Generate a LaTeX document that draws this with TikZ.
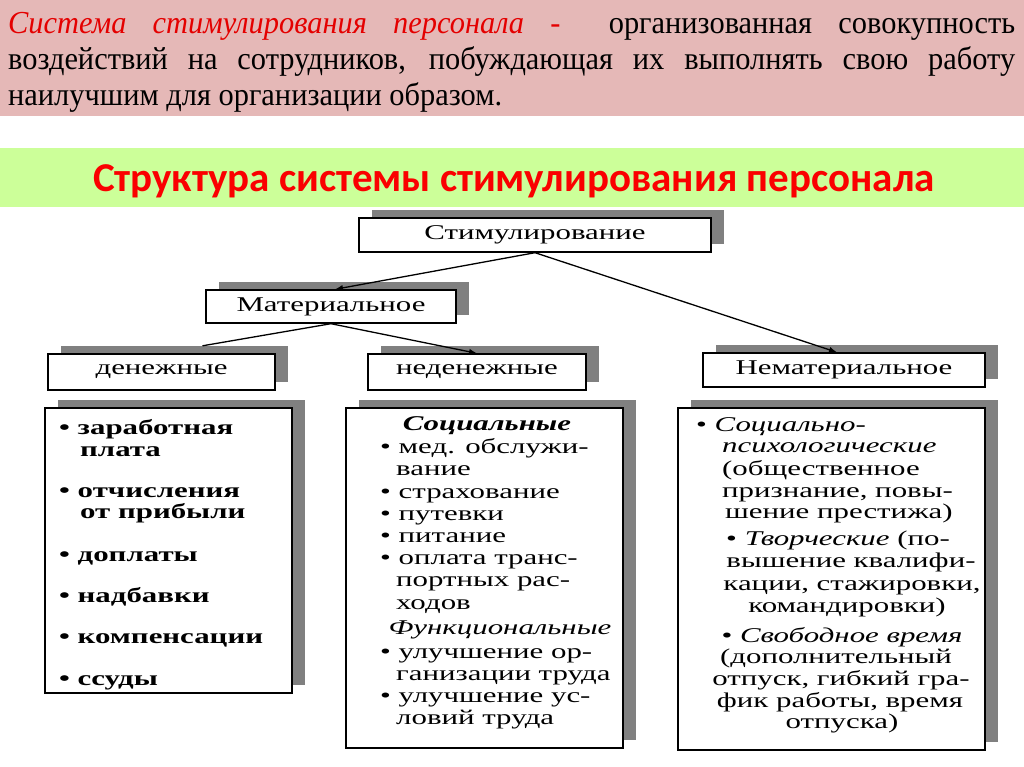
\documentclass[tikz,border=0pt]{standalone}
\usepackage{fontspec}
\setmainfont{Liberation Serif}
\newfontfamily\dgfont[FakeStretch=1.47]{Liberation Serif}
\newfontfamily\topfont[FakeStretch=0.95]{Liberation Serif}
\newfontfamily\ttlfont{Carlito}
\usetikzlibrary{arrows.meta}
\definecolor{pinkbg}{RGB}{229,184,183}
\definecolor{greenbg}{RGB}{204,255,153}
\definecolor{redtxt}{RGB}{228,0,0}
\definecolor{titlered}{RGB}{250,0,0}
\definecolor{shadecol}{RGB}{128,128,128}
\tikzset{
  box/.style={draw=black, line width=1.4pt, fill=white, inner sep=0pt},
  shadowbox/.style={fill=shadecol, draw=none, inner sep=0pt},
  lab/.style={font=\dgfont\fontsize{21}{24}\selectfont},
  ln/.style={font=\dgfont\fontsize{21}{24}\selectfont, anchor=base west, inner sep=0pt},
  lnc/.style={font=\dgfont\fontsize{21}{24}\selectfont, anchor=base, inner sep=0pt},
  lnb/.style={font=\dgfont\bfseries\fontsize{21}{24}\selectfont, anchor=base west, inner sep=0pt},
  topln/.style={font=\topfont\fontsize{32}{36}\selectfont, anchor=base west, inner sep=0pt},
  conn/.style={line width=1.3pt, draw=black},
  arr/.style={conn, -{Latex[length=8pt,width=6pt]}},
}
\newcommand\shbox[6]{%
  \node[shadowbox, minimum width={#4-#2}, minimum height={#5-#3}] (#1s) at ({(#2+#4)/2+13},{(#3+#5)/2-8}) {};
  \node[box, lab, minimum width={#4-#2}, minimum height={#5-#3}] (#1) at ({(#2+#4)/2},{(#3+#5)/2}) {#6};}
\begin{document}
\begin{tikzpicture}[x=1pt,y=-1pt]
\useasboundingbox (0,0) rectangle (1024,767);
\fill[white] (0,0) rectangle (1024,767);
% bands
\fill[pinkbg] (0,0) rectangle (1024,116);
\fill[greenbg] (0,148) rectangle (1024,207);
% definition text
\node[topln] (t1) at (8,34) {\makebox[1007pt][s]{{\color{redtxt}\itshape Система стимулирования персонала -}\hspace{22pt} организованная совокупность}};
\node[topln] (t2) at (8,70) {\makebox[1007pt][s]{воздействий на сотрудников, побуждающая их выполнять свою работу}};
\node[topln] (t3) at (8,106) {наилучшим для организации образом.};
% title
\node[anchor=base, inner sep=0pt, font=\ttlfont\bfseries\fontsize{41}{48}\selectfont, text=titlered] (title) at (514,192) {Структура системы стимулирования персонала};
% boxes
\shbox{stim}{359}{218}{711}{252}{Стимулирование}
\shbox{mat}{206}{290}{456}{323}{Материальное}
\shbox{den}{48}{354}{275}{390}{денежные}
\shbox{ned}{368}{354}{586}{390}{неденежные}
\shbox{nem}{703}{353}{985}{387}{Нематериальное}
\shbox{L}{45}{408}{292}{693}{}
\shbox{M}{346}{408}{623}{748}{}
\shbox{R}{678}{408}{985}{750}{}
% connectors
\draw[arr] (stim.south) -- ([xshift=4pt]mat.north);
\draw[arr] (stim.south) -- ([xshift=-7pt]nem.north);
\draw[conn] (mat.south) -- ([xshift=28pt]dens.north);
\draw[arr] (mat.south) -- (ned.north);
% left list
\node[lnb] (l1) at (59,434) {• заработная};
\node[lnb] (l2) at (80,456) {плата};
\node[lnb] (l3) at (59,497) {• отчисления};
\node[lnb] (l4) at (80,518) {от прибыли};
\node[lnb] (l5) at (59,561) {• доплаты};
\node[lnb] (l6) at (59,602) {• надбавки};
\node[lnb] (l7) at (59,643) {• компенсации};
\node[lnb] (l8) at (59,685) {• ссуды};
% middle list
\node[lnc] (m0) at (487,430) {\bfseries\itshape Социальные};
\node[ln] (m1) at (380,453) {• мед. обслужи-};
\node[ln] (m2) at (396,475) {вание};
\node[ln] (m3) at (380,498) {• страхование};
\node[ln] (m4) at (380,520) {• путевки};
\node[ln] (m5) at (380,542) {• питание};
\node[ln] (m6) at (380,564) {• оплата транс-};
\node[ln] (m7) at (396,586) {портных рас-};
\node[ln] (m8) at (396,609) {ходов};
\node[lnc] (m9) at (500,634) {\itshape Функциональные};
\node[ln] (m10) at (380,658) {• улучшение ор-};
\node[ln] (m11) at (396,680) {ганизации труда};
\node[ln] (m12) at (380,702) {• улучшение ус-};
\node[ln] (m13) at (396,724) {ловий труда};
% right list
\node[ln] (r1) at (696,431) {• \itshape Социально-};
\node[ln] (r2) at (722,452) {\itshape психологические};
\node[ln] (r3) at (722,475) {(общественное};
\node[ln] (r4) at (722,497) {признание, повы-};
\node[ln] (r5) at (725,518) {шение престижа)};
\node[lnc] (r6) at (838,545) {• \textit{Творческие} (по-};
\node[lnc] (r7) at (851,567) {вышение квалифи-};
\node[lnc] (r8) at (852,590) {кации, стажировки,};
\node[lnc] (r9) at (847,612) {командировки)};
\node[lnc] (r10) at (842,642) {• \textit{Свободное время}};
\node[lnc] (r11) at (836,663) {(дополнительный};
\node[lnc] (r12) at (841,685) {отпуск, гибкий гра-};
\node[lnc] (r13) at (840,707) {фик работы, время};
\node[lnc] (r14) at (842,728) {отпуска)};
\end{tikzpicture}
\end{document}
